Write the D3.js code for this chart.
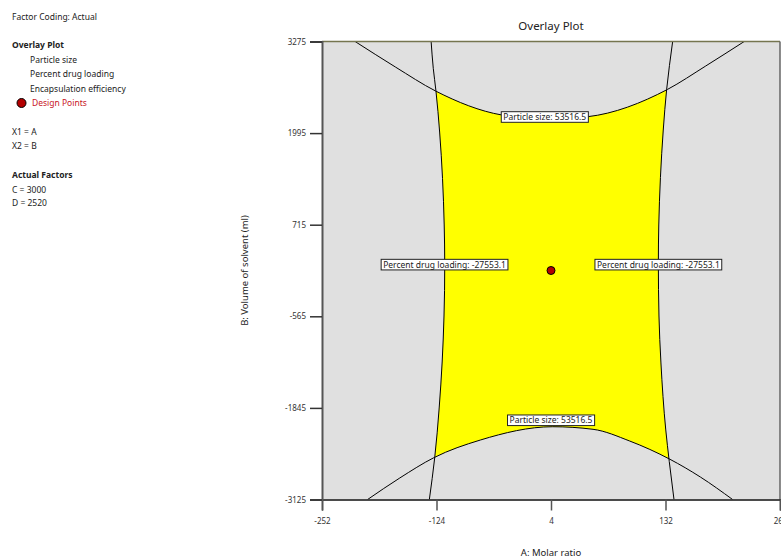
<!DOCTYPE html>
<html lang="en">
<head>
  <meta charset="UTF-8" />
  <title>Overlay Plot</title>
  <style>
    body {
      margin: 0;
      background: #fff;
      font-family: "Segoe UI", "Noto Sans", "Open Sans", sans-serif;
    }
    svg { display: block; }
    .side text { font-size: 8.5px; fill: #222; }
    .tick text { font-size: 8px; fill: #333; }
    .contour { fill: none; stroke: #000; stroke-width: 1px; }
    .clabel text { font-size: 8.5px; fill: #222; }
  </style>
</head>
<body>
  <svg width="781" height="558"></svg>

  <script src="https://cdnjs.cloudflare.com/ajax/libs/d3/7.8.5/d3.min.js"></script>
  <script>
    // axis ranges and ticks (A: Molar ratio, B: Volume of solvent)
    const xDomain = [-252, 260];
    const yDomain = [-3125, 3275];
    const xTicks = [-252, -124, 4, 132, 260];
    const yTicks = [-3125, -1845, -565, 715, 1995, 3275];

    // contour lines, [A, B]
    const sizeUpper = [[-215, 3275], [-170, 2919], [-125, 2583], [-51, 2248], [1, 2192],
                       [45, 2224], [134, 2604], [177, 2933], [220, 3275]];
    const sizeLower = [[-201, -3125], [-165, -2824], [-127, -2541], [-75, -2294], [6, -2108],
                       [51, -2144], [92, -2308], [137, -2563], [171, -2811], [207, -3125]];
    const loadLeft = [[-130, 3275], [-127.6, 2900], [-124.6, 2583], [-120.5, 2010], [-115.4, 711],
                      [-114.8, 152], [-115.6, -561], [-121, -1846], [-126, -2541], [-132, -3125]];
    const loadRight = [[140, 3275], [133.3, 2607], [129.5, 2038], [124.5, 711], [124, 179],
                       [124.7, -561], [126.9, -1217], [132.3, -2153], [136.2, -2594], [141.5, -3125]];

    // contour labels
    const contourLabels = [
      { text: "Particle size: 53516.5", x: -3, y: 2220 },
      { text: "Particle size: 53516.5", x: 4, y: -2018 },
      { text: "Percent drug loading: -27553.1", x: -115, y: 157 },
      { text: "Percent drug loading: -27553.1", x: 124, y: 157 }
    ];

    const designPoints = [[4, 75]];

    const sideLines = [
      { t: "Factor Coding: Actual", y: 17, x: 12 },
      { t: "Overlay Plot", y: 45, x: 12, bold: true },
      { t: "Particle size", y: 60, x: 30 },
      { t: "Percent drug loading", y: 74, x: 30 },
      { t: "Encapsulation efficiency", y: 89, x: 30 },
      { t: "Design Points", y: 103, x: 32, red: true },
      { t: "X1 = A", y: 132, x: 12 },
      { t: "X2 = B", y: 146, x: 12 },
      { t: "Actual Factors", y: 175, x: 12, bold: true },
      { t: "C = 3000", y: 190, x: 12 },
      { t: "D = 2520", y: 203, x: 12 }
    ];

    const svg = d3.select("svg");
    const pLeft = 322, pRight = 780, pTop = 41.5, pBottom = 499.5;

    const x = d3.scaleLinear().domain(xDomain).range([pLeft, pRight]);
    const y = d3.scaleLinear().domain(yDomain).range([pBottom, pTop]);

    // side panel
    const side = svg.append("g").attr("class", "side");
    side.selectAll("text")
      .data(sideLines)
      .join("text")
      .attr("x", d => d.x)
      .attr("y", d => d.y)
      .attr("dy", "0.35em")
      .attr("font-weight", d => d.bold ? "bold" : null)
      .style("fill", d => d.red ? "#c8141e" : null)
      .text(d => d.t);
    side.append("circle")
      .attr("cx", 21.5).attr("cy", 103).attr("r", 4.5)
      .attr("fill", "#b30000").attr("stroke", "#000").attr("stroke-width", 1);

    // title
    svg.append("text")
      .attr("x", (pLeft + pRight) / 2).attr("y", 30)
      .attr("text-anchor", "middle")
      .attr("font-size", "11.5px").attr("fill", "#222")
      .text("Overlay Plot");

    const defs = svg.append("defs");
    // horizontal contours run left-right, vertical ones top-bottom
    const lineH = d3.line().x(d => x(d[0])).y(d => y(d[1])).curve(d3.curveMonotoneX);
    const lineV = d3.line().x(d => x(d[0])).y(d => y(d[1])).curve(d3.curveMonotoneY);

    defs.append("clipPath").attr("id", "plotClip")
      .append("rect").attr("x", pLeft).attr("y", pTop)
      .attr("width", pRight - pLeft).attr("height", pBottom - pTop);

    // half-regions on the feasible side of each contour
    const L = pLeft - 50, R = pRight + 50, T = pTop - 50, B = pBottom + 50;
    const regions = [
      { id: "cUp", d: lineH(sizeUpper) + `L${R},${T}L${R},${B}L${L},${B}L${L},${T}Z` },
      { id: "cLow", d: lineH(sizeLower) + `L${R},${B}L${R},${T}L${L},${T}L${L},${B}Z` },
      { id: "cLeft", d: lineV(loadLeft) + `L${R},${B}L${R},${T}Z` },
      { id: "cRight", d: lineV(loadRight) + `L${L},${B}L${L},${T}Z` }
    ];
    regions.forEach(r => defs.append("clipPath").attr("id", r.id).append("path").attr("d", r.d));

    const plot = svg.append("g").attr("clip-path", "url(#plotClip)");
    plot.append("rect")
      .attr("x", pLeft).attr("y", pTop)
      .attr("width", pRight - pLeft).attr("height", pBottom - pTop)
      .attr("fill", "#e0e0e0");

    let g = plot;
    regions.forEach(r => { g = g.append("g").attr("clip-path", `url(#${r.id})`); });
    g.append("rect")
      .attr("x", pLeft).attr("y", pTop)
      .attr("width", pRight - pLeft).attr("height", pBottom - pTop)
      .attr("fill", "#ffff00");

    plot.selectAll("path.ch")
      .data([sizeUpper, sizeLower])
      .join("path")
      .attr("class", "contour ch")
      .attr("d", lineH);
    plot.selectAll("path.cv")
      .data([loadLeft, loadRight])
      .join("path")
      .attr("class", "contour cv")
      .attr("d", lineV);

    // frame
    svg.append("line").attr("x1", pLeft).attr("x2", pRight).attr("y1", pTop).attr("y2", pTop)
      .attr("stroke", "#75754f").attr("stroke-width", 1.5);
    svg.append("line").attr("x1", pRight).attr("x2", pRight).attr("y1", pTop).attr("y2", pBottom)
      .attr("stroke", "#666").attr("stroke-width", 1.5);

    // axes
    const xAxis = svg.append("g")
      .attr("transform", `translate(0,${pBottom})`)
      .call(d3.axisBottom(x).tickValues(xTicks).tickSize(11).tickPadding(8).tickFormat(d => String(d)));
    xAxis.select(".domain").attr("stroke", "#111").attr("stroke-width", 1.5);
    xAxis.selectAll(".tick line").attr("stroke", "#555").attr("stroke-width", 1.5);

    const yAxis = svg.append("g")
      .attr("transform", `translate(${pLeft},0)`)
      .call(d3.axisLeft(y).tickValues(yTicks).tickSize(12).tickPadding(4).tickFormat(d => String(d)));
    yAxis.select(".domain").attr("stroke", "#555").attr("stroke-width", 2);
    yAxis.selectAll(".tick line").attr("stroke", "#333").attr("stroke-width", 1.5);
    xAxis.attr("font-family", null).attr("font-size", null);
    yAxis.attr("font-family", null).attr("font-size", null);

    svg.append("text")
      .attr("x", (pLeft + pRight) / 2).attr("y", 553)
      .attr("dy", "0.35em")
      .attr("text-anchor", "middle")
      .attr("font-size", "9.5px").attr("fill", "#222")
      .text("A: Molar ratio");

    svg.append("text")
      .attr("transform", `translate(245,${(pTop + pBottom) / 2}) rotate(-90)`)
      .attr("dy", "0.35em")
      .attr("text-anchor", "middle")
      .attr("font-size", "9.5px").attr("fill", "#222")
      .text("B: Volume of solvent (ml)");

    // contour labels
    const lab = svg.append("g").attr("class", "clabel")
      .selectAll("g")
      .data(contourLabels)
      .join("g")
      .attr("transform", d => `translate(${x(d.x)},${y(d.y)})`);
    lab.append("text")
      .attr("text-anchor", "middle")
      .attr("dy", "0.35em")
      .text(d => d.text);
    lab.insert("rect", "text")
      .each(function () {
        const bb = this.parentNode.querySelector("text").getBBox();
        d3.select(this)
          .attr("x", bb.x - 2).attr("y", -5.3)
          .attr("width", bb.width + 4).attr("height", 10.6);
      })
      .attr("fill", "#fff").attr("stroke", "#222").attr("stroke-width", 1);

    // design points
    svg.append("g")
      .selectAll("circle")
      .data(designPoints)
      .join("circle")
      .attr("cx", d => x(d[0]))
      .attr("cy", d => y(d[1]))
      .attr("r", 4)
      .attr("fill", "#b30000")
      .attr("stroke", "#000")
      .attr("stroke-width", 1);
  </script>
</body>
</html>
